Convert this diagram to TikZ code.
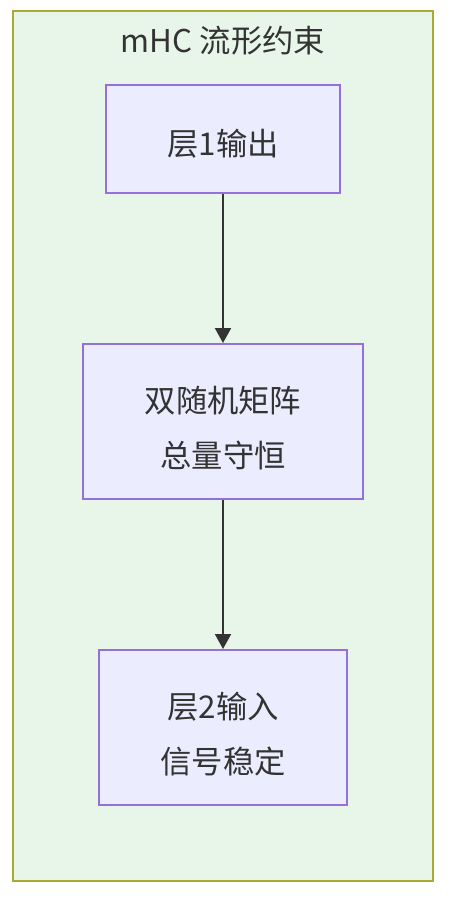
\documentclass[tikz,border=0pt]{standalone}
\usepackage{fontspec}
\setmainfont{Noto Sans CJK SC}
\usetikzlibrary{arrows.meta}
\definecolor{clusterfill}{HTML}{E8F5E9}
\definecolor{clusterline}{HTML}{AAAA33}
\definecolor{nodefill}{HTML}{ECECFF}
\definecolor{nodeline}{HTML}{9370DB}
\definecolor{edgeline}{HTML}{333333}
\tikzset{every picture/.style={line width=0.75pt}}
\tikzset{
  stage/.style={draw=nodeline,fill=nodefill,line width=1.5pt,inner sep=0pt},
  caption/.style={inner sep=0pt,align=center,text=edgeline,font=\fontsize{23.5}{41.25}\selectfont},
  flow/.style={draw=edgeline,line width=1.5pt,-{Triangle[length=11.25pt,width=12pt]}}
}

\begin{document}
\begin{tikzpicture}[x=0.75pt,y=0.75pt,yscale=-1,xscale=1]
\useasboundingbox (0,0) rectangle (456,901);

%Shape: Rectangle [id:cluster]
\draw [draw=clusterline,fill=clusterfill,line width=1.5pt] (13,11) rectangle (433,881);

% Text Node
\node (title) at (223,41) [caption] {mHC 流形约束};

%Shape: Rectangle [id:out1]
\node (out1) at (223,139) [stage,minimum width=175.5pt,minimum height=81pt] {};
%Shape: Rectangle [id:dsm]
\node (dsm) at (223,421.5) [stage,minimum width=210pt,minimum height=116.25pt] {};
%Shape: Rectangle [id:in2]
\node (in2) at (223,727.5) [stage,minimum width=186pt,minimum height=116.25pt] {};

% Text Node
\node (out1text) at (223,143.5) [caption] {层1输出};
% Text Node
\node (dsmtext) at (223,428.5) [caption] {双随机矩阵\\总量守恒};
% Text Node
\node (in2text) at (223,734.5) [caption] {层2输入\\信号稳定};

%Straight Lines [id:out1-dsm]
\draw [flow] (out1) -- (dsm);
%Straight Lines [id:dsm-in2]
\draw [flow] (dsm) -- (in2);

\end{tikzpicture}
\end{document}
